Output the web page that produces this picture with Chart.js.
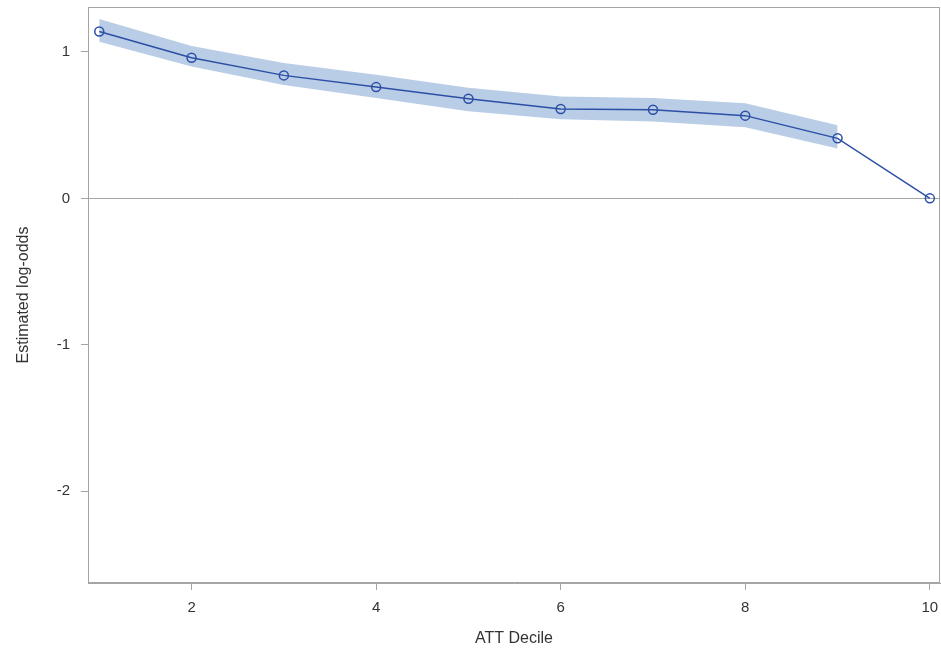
<!DOCTYPE html>
<html>
<head>
<meta charset="utf-8">
<script src="https://cdn.jsdelivr.net/npm/chart.js@4/dist/chart.umd.min.js"></script>
<style>
  html, body { margin: 0; padding: 0; background: #fff; }
  #wrap { width: 941px; height: 655px; }
</style>
</head>
<body>
<div id="wrap"><canvas id="chart"></canvas></div>
<script>
// ATT deciles and estimated log-odds
const deciles = [1, 2, 3, 4, 5, 6, 7, 8, 9, 10];
const estimate = [1.14, 0.96, 0.84, 0.76, 0.68, 0.61, 0.605, 0.565, 0.41, 0];
const upperCL = [1.225, 1.04, 0.925, 0.845, 0.755, 0.695, 0.685, 0.65, 0.50];
const lowerCL = [1.07, 0.90, 0.775, 0.685, 0.595, 0.54, 0.525, 0.485, 0.34];
const xTicks = [2, 4, 6, 8, 10];
const yTicks = [-2, -1, 0, 1];

const axisGray = "#a5a5a5";
const textColor = "#333333";

const toPoints = (vals) => vals.map((v, i) => ({ x: deciles[i], y: v }));

// frame round the plot area
const frame = {
    id: "frame",
    afterDraw(chart) {
        const a = chart.chartArea;
        const ctx = chart.ctx;
        ctx.save();
        ctx.strokeStyle = axisGray;
        ctx.lineWidth = 1;
        ctx.strokeRect(a.left + 0.5, a.top + 0.5, a.right - a.left - 1, a.bottom - a.top - 1);
        ctx.restore();
    }
};

new Chart(document.getElementById("chart"), {
    type: "line",
    data: {
        datasets: [
            {
                data: toPoints(lowerCL),
                borderWidth: 0,
                pointRadius: 0,
                fill: false,
                order: 2
            },
            {
                data: toPoints(upperCL),
                borderWidth: 0,
                pointRadius: 0,
                backgroundColor: "#b9cde6",
                fill: "-1",
                order: 1
            },
            {
                data: toPoints(estimate),
                borderColor: "#2c4fa5",
                borderWidth: 1.5,
                pointRadius: 4.5,
                pointBorderWidth: 1.5,
                pointBorderColor: "#2c4fa5",
                pointBackgroundColor: "rgba(0,0,0,0)",
                fill: false,
                order: 0
            }
        ]
    },
    options: {
        responsive: true,
        maintainAspectRatio: false,
        animation: false,
        layout: { autoPadding: false, padding: { top: 7, right: 1, left: 0, bottom: 0 } },
        plugins: {
            legend: { display: false },
            tooltip: { enabled: false }
        },
        elements: { line: { tension: 0 } },
        scales: {
            x: {
                type: "linear",
                min: 0.878,
                max: 10.11,
                afterBuildTicks: (s) => { s.ticks = xTicks.map(v => ({ value: v })); },
                afterFit: (s) => { s.height = 72; s.paddingLeft = 0; s.paddingRight = 0; },
                border: { color: axisGray },
                grid: { drawOnChartArea: false, drawTicks: true, tickLength: 7, tickColor: axisGray },
                ticks: { color: textColor, font: { family: "Liberation Sans", size: 15 }, padding: 9, maxRotation: 0 },
                title: {
                    display: true,
                    text: "ATT Decile",
                    color: textColor,
                    font: { family: "Liberation Sans", size: 16 },
                    padding: { top: 0, bottom: 7 }
                }
            },
            y: {
                min: -2.627,
                max: 1.307,
                afterBuildTicks: (s) => { s.ticks = yTicks.map(v => ({ value: v })); },
                afterFit: (s) => { s.width = 88; s.paddingTop = 0; s.paddingBottom = 0; },
                border: { color: axisGray },
                grid: {
                    color: (c) => (c.tick && c.tick.value === 0 ? axisGray : "rgba(0,0,0,0)"),
                    tickColor: axisGray,
                    tickLength: 7,
                    lineWidth: 1
                },
                ticks: { color: textColor, font: { family: "Liberation Sans", size: 15 }, padding: 11 },
                title: {
                    display: true,
                    text: "Estimated log-odds",
                    color: textColor,
                    font: { family: "Liberation Sans", size: 16 },
                    padding: { top: 14, bottom: 0 }
                }
            }
        }
    },
    plugins: [frame]
});
</script>
</body>
</html>
